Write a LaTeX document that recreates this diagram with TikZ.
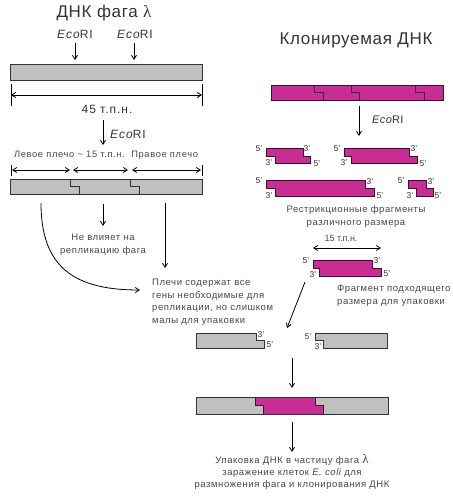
\documentclass[tikz,border=0pt]{standalone}
\usepackage{fontspec}
\setmainfont{Liberation Sans}
\newfontfamily\serifl{Liberation Serif}
\newfontfamily\sansA[LetterSpace=6]{Liberation Sans}
\newfontfamily\sansB[LetterSpace=8]{Liberation Sans}
\newfontfamily\sansC[LetterSpace=4]{Liberation Sans}
\newfontfamily\sansD[LetterSpace=7]{Liberation Sans}
\usetikzlibrary{arrows.meta}
\definecolor{pinkfill}{RGB}{200,45,150}
\definecolor{pinkline}{RGB}{60,15,45}
\definecolor{grayfill}{RGB}{192,192,192}
\definecolor{grayline}{RGB}{50,50,50}
\definecolor{txt}{RGB}{70,70,70}
\tikzset{
  x=1pt,y=-1pt,
  conn/.style={line width=0.8pt,-{Straight Barb[length=4pt,width=5pt]}},
  dbl/.style={line width=0.8pt,{Straight Barb[length=4pt,width=5pt]}-{Straight Barb[length=4pt,width=5pt]}},
  tick/.style={line width=0.8pt},
  graybar/.style={fill=grayfill,draw=grayline,line width=0.9pt},
  pinkbar/.style={fill=pinkfill,draw=pinkline,line width=0.9pt},
  title/.style={font=\sansC\fontsize{17}{18}\selectfont,text=black!80,inner sep=0pt},
  eco/.style={font=\sansB\fontsize{12}{12}\selectfont,text=black!80,inner sep=0pt},
  ecos/.style={font=\sansC\fontsize{11}{12}\selectfont,text=black!80,inner sep=0pt},
  lbl/.style={font=\sansA\fontsize{9.5}{13}\selectfont,text=txt,inner sep=0pt,align=center},
  lbll/.style={font=\sansA\fontsize{9.5}{12.5}\selectfont,text=txt,inner sep=0pt,align=left},
  end/.style={font=\fontsize{8.5}{10}\selectfont,text=black!80,inner sep=0pt},
}
\begin{document}
\begin{tikzpicture}
\useasboundingbox (0,0) rectangle (452,500);
% ---------- left: lambda DNA ----------
\node[title] (t1) at (104,13) {ДНК фага {\serifl λ}};
\node[eco] (e1) at (75,34) {{\itshape Eco}RI};
\node[eco] (e2) at (135,34) {{\itshape Eco}RI};
\coordinate (e1a) at (75,43); \coordinate (e1b) at (75,60);
\coordinate (e2a) at (134,43); \coordinate (e2b) at (134,60);
\draw[conn] (e1a) -- (e1b);
\draw[conn] (e2a) -- (e2b);
\draw[graybar] (10,64) rectangle (202,80);
\coordinate (k1t) at (11,84); \coordinate (k1b) at (11,106);
\coordinate (k2t) at (202,84); \coordinate (k2b) at (202,106);
\draw[tick] (k1t) -- (k1b);
\draw[tick] (k2t) -- (k2b);
\coordinate (d1) at (11,95); \coordinate (d2) at (202,95);
\draw[dbl] (d1) -- (d2);
\node[eco] (kb45) at (107,109) {45 т.п.н.};
\coordinate (m1) at (103,120); \coordinate (m2) at (103,145);
\draw[conn] (m1) -- (m2);
\node[eco,anchor=west] (e3) at (110,134) {{\itshape Eco}RI};
\node[lbl,font=\sansD\fontsize{9.3}{10}\selectfont] (arms) at (106,155) {Левое плечо \textasciitilde{} 15 т.п.н.\ \ Правое плечо};
\coordinate (s1t) at (11,165); \coordinate (s1b) at (11,176);
\coordinate (s2t) at (202,165); \coordinate (s2b) at (202,176);
\draw[tick] (s1t) -- (s1b);
\draw[tick] (s2t) -- (s2b);
\coordinate (a1) at (12,170); \coordinate (a2) at (70,170);
\coordinate (a3) at (73,170); \coordinate (a4) at (128,170);
\coordinate (a5) at (132,170); \coordinate (a6) at (201,170);
\draw[dbl] (a1) -- (a2);
\draw[dbl] (a3) -- (a4);
\draw[dbl] (a5) -- (a6);
\draw[graybar] (10,179) rectangle (202,194);
\draw[grayline,line width=0.9pt] (70,179) -- (70,186.5) -- (79,186.5) -- (79,194);
\draw[grayline,line width=0.9pt] (130,179) -- (130,186.5) -- (139,186.5) -- (139,194);
\coordinate (c1) at (41,203); \coordinate (c2) at (140,290);
\draw[conn] (c1) .. controls (41,268) and (75,290) .. (c2);
\coordinate (n1) at (103,204); \coordinate (n2) at (103,226);
\draw[conn] (n1) -- (n2);
\node[lbl] (noeff) at (103,245) {Не влияет на\\репликацию фага};
\coordinate (r1) at (165,203); \coordinate (r2) at (165,268);
\draw[conn] (r1) -- (r2);
\node[lbll,anchor=north west] (armstxt) at (152,279) {Плечи содержат все\\гены необходимые для\\репликации, но слишком\\малы для упаковки};
% ---------- right: cloned DNA ----------
\node[title] (t2) at (356,40) {Клонируемая ДНК};
\draw[pinkbar] (271,85) rectangle (443,100);
\foreach \a/\b in {314/323,351/359,415/424}
  \draw[pinkline,line width=0.9pt] (\a,85) -- (\a,92.5) -- (\b,92.5) -- (\b,100);
\coordinate (p1) at (359,106); \coordinate (p2) at (359,136);
\draw[conn] (p1) -- (p2);
\node[ecos,anchor=west] (e4) at (372,120) {{\itshape Eco}RI};
% fragments
\draw[pinkbar] (266,148) -- (303,148) -- (303,156) -- (310,156) -- (310,163) -- (275,163) -- (275,156) -- (266,156) -- cycle;
\node[end] at (259,149) {5’}; \node[end] at (307,149) {3’};
\node[end] at (269,163) {3’}; \node[end] at (317,164) {5’};
\draw[pinkbar] (344,148) -- (409,148) -- (409,156) -- (417,156) -- (417,163) -- (351,163) -- (351,156) -- (344,156) -- cycle;
\node[end] at (337,149) {5’}; \node[end] at (414,149) {3’};
\node[end] at (344,163) {3’}; \node[end] at (423,164) {5’};
\draw[pinkbar] (266,180) -- (365,180) -- (365,188) -- (374,188) -- (374,196) -- (275,196) -- (275,188) -- (266,188) -- cycle;
\node[end] at (259,181) {5’}; \node[end] at (370,182) {3’};
\node[end] at (269,196) {3’}; \node[end] at (380,196) {5’};
\draw[pinkbar] (408,180) -- (426,180) -- (426,188) -- (433,188) -- (433,196) -- (416,196) -- (416,188) -- (408,188) -- cycle;
\node[end] at (401,181) {5’}; \node[end] at (431,182) {3’};
\node[end] at (410,196) {3’}; \node[end] at (438,196) {5’};
\node[lbl] (restr) at (356,217) {Рестрикционные фрагменты\\различного размера};
\node[lbl,font=\fontsize{9}{12}\selectfont] (kb15) at (341,238) {15 т.п.н.};
\coordinate (f1) at (313,248); \coordinate (f2) at (381,248);
\draw[dbl] (f1) -- (f2);
\draw[pinkbar] (313,260) -- (372,260) -- (372,268) -- (381,268) -- (381,276) -- (319,276) -- (319,268) -- (313,268) -- cycle;
\node[end] at (306,261) {5’}; \node[end] at (377,261) {3’};
\node[end] at (313,275) {3’}; \node[end] at (387,274) {5’};
\node[lbll,anchor=north west] (fit) at (337,285) {Фрагмент подходящего\\размера для упаковки};
\coordinate (g1) at (305,282); \coordinate (g2) at (287,328);
\draw[conn] (g1) -- (g2);
% arms separated
\draw[graybar] (196,333) -- (256,333) -- (256,340) -- (264,340) -- (264,348) -- (196,348) -- cycle;
\node[end] at (261,335) {3’}; \node[end] at (270,345) {5’};
\draw[graybar] (315,333) -- (387,333) -- (387,348) -- (323,348) -- (323,340) -- (315,340) -- cycle;
\node[end] at (308,337) {5’}; \node[end] at (318,347) {3’};
\coordinate (h1) at (292,358); \coordinate (h2) at (292,388);
\draw[conn] (h1) -- (h2);
% recombinant
\fill[grayfill] (196,397) rectangle (388,414);
\fill[pinkfill] (255,397) -- (315,397) -- (315,405.5) -- (323,405.5) -- (323,414) -- (263,414) -- (263,405.5) -- (255,405.5) -- cycle;
\draw[pinkline,line width=0.9pt] (255,397) -- (255,405.5) -- (263,405.5) -- (263,414);
\draw[pinkline,line width=0.9pt] (315,397) -- (315,405.5) -- (323,405.5) -- (323,414);
\draw[grayline,line width=0.9pt] (196,397) rectangle (388,414);
\coordinate (j1) at (292,422); \coordinate (j2) at (292,452);
\draw[conn] (j1) -- (j2);
\node[lbl,anchor=north,font=\sansA\fontsize{9.5}{12}\selectfont] (pack) at (292,454) {Упаковка ДНК в частицу фага {\serifl\fontsize{13}{12}\selectfont λ}\\заражение клеток {\itshape E. coli} для\\размножения фага и клонирования ДНК};
\end{tikzpicture}
\end{document}
